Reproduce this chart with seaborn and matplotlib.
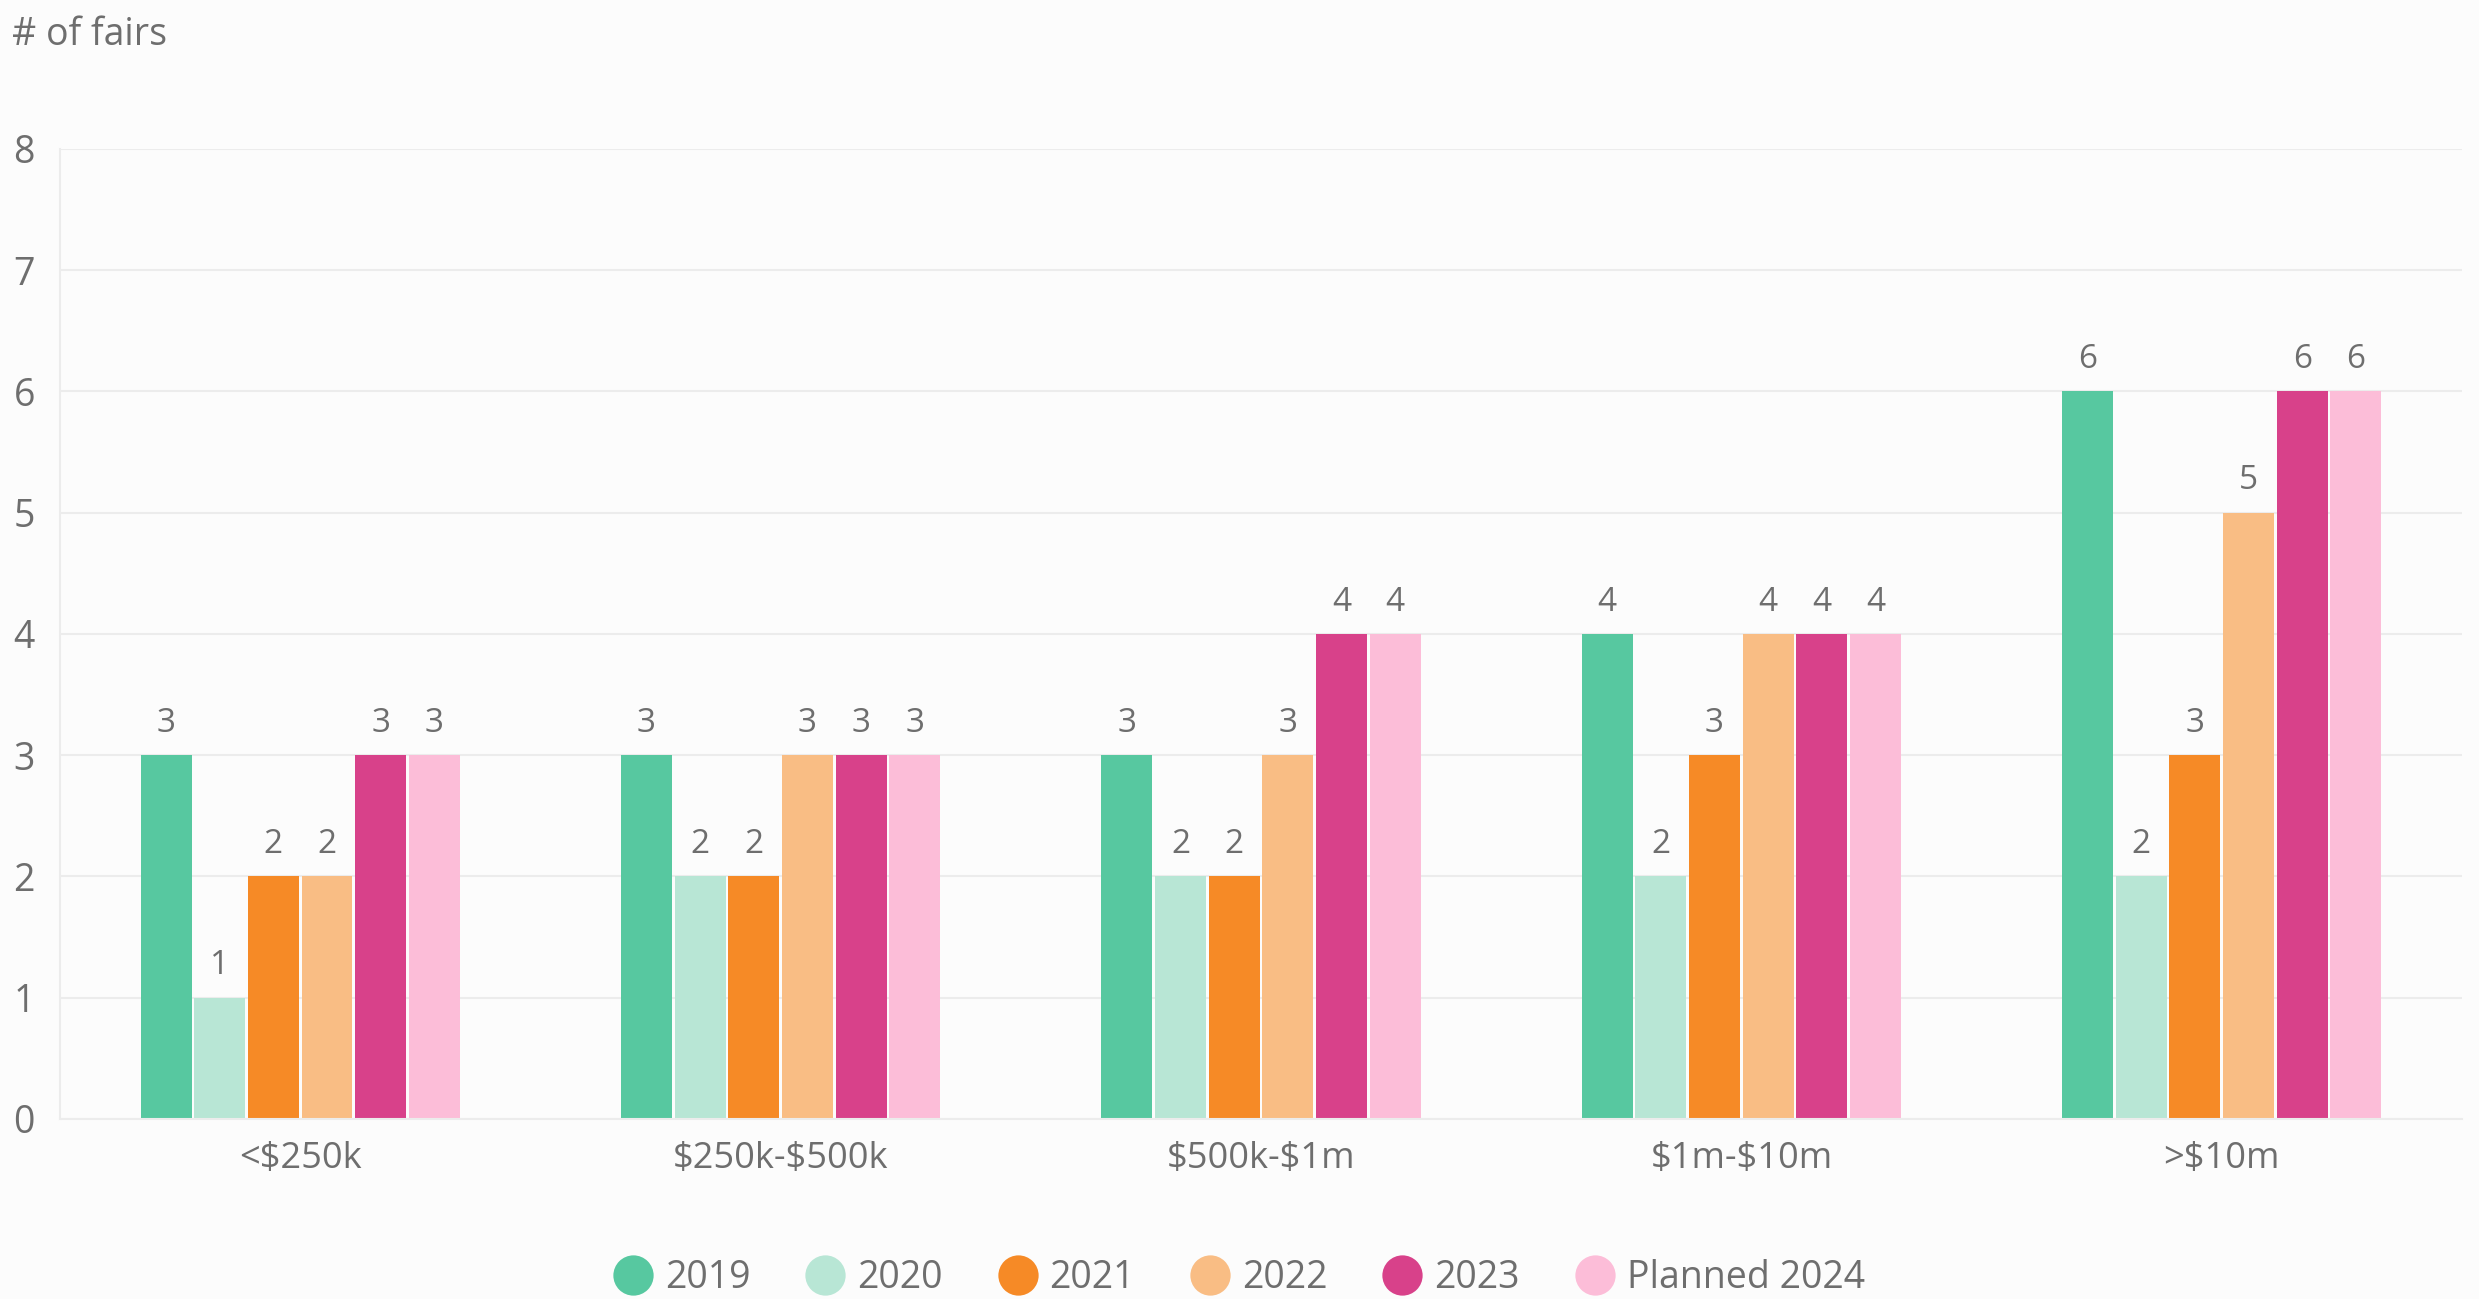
import pandas as pd
import matplotlib.pyplot as plt
from matplotlib.lines import Line2D
import seaborn as sns

# Data
categories = ['<$250k', '$250k-$500k', '$500k-$1m', '$1m-$10m', '>$10m']
years = ['2019', '2020', '2021', '2022', '2023', 'Planned 2024']
fairs_2019 = [3, 3, 3, 4, 6]
fairs_2020 = [1, 2, 2, 2, 2]
fairs_2021 = [2, 2, 2, 3, 3]
fairs_2022 = [2, 3, 3, 4, 5]
fairs_2023 = [3, 3, 4, 4, 6]
fairs_2024 = [3, 3, 4, 4, 6]
colors = ['#57c8a0', '#b8e6d5', '#f68a26', '#f9bd84', '#d8418a', '#fcbdd8']

series = [fairs_2019, fairs_2020, fairs_2021, fairs_2022, fairs_2023, fairs_2024]
rows = []
for year, values in zip(years, series):
    for cat, v in zip(categories, values):
        rows.append({'Fair size': cat, 'Year': year, 'Fairs': v})
df = pd.DataFrame(rows)

sns.set_style("white")
plt.rcParams['font.family'] = ['Open Sans', 'DejaVu Sans']
plt.rcParams['text.parse_math'] = False  # keep the dollar signs literal
text_color = '#6e6e6e'
grid_color = '#ececec'
bg = '#fcfcfc'

fig = plt.figure(figsize=(24.79, 12.99), dpi=100, facecolor=bg)
ax = fig.add_axes([0.0242, 0.1386, 0.9689, 0.7467], facecolor=bg)

sns.barplot(data=df, x='Fair size', y='Fairs', hue='Year', hue_order=years,
            order=categories, palette=colors, saturation=1, width=0.67, gap=0.05,
            linewidth=0, legend=False, ax=ax)

for c in ax.containers:
    ax.bar_label(c, fmt='%d', padding=11, color=text_color, fontsize=24)

ax.set_ylim(0, 8)
ax.set_xlim(-0.5, 4.5)
ax.set_yticks(range(0, 9))
ax.yaxis.grid(True, color=grid_color, linewidth=1.5)
ax.set_axisbelow(True)
ax.set_xlabel('')
ax.set_ylabel('')
ax.tick_params(axis='y', length=0, pad=18, labelsize=27, labelcolor=text_color)
ax.tick_params(axis='x', length=0, pad=16, labelsize=26, labelcolor=text_color)
for side in ['top', 'right']:
    ax.spines[side].set_visible(False)
for side in ['left', 'bottom']:
    ax.spines[side].set_color(grid_color)
    ax.spines[side].set_linewidth(1.5)

fig.text(0.005, 0.973, '# of fairs', fontsize=27, color=text_color,
         ha='left', va='center')

handles = [Line2D([0], [0], marker='o', linestyle='', markersize=29,
                  markerfacecolor=c, markeredgewidth=0) for c in colors]
fig.legend(handles, years, loc='center', bbox_to_anchor=(0.5, 0.016), ncol=6,
           frameon=False, fontsize=27, labelcolor=text_color,
           handlelength=1.0, handletextpad=0.35, columnspacing=1.5)

fig.savefig('out.png', dpi=100, facecolor=bg)
